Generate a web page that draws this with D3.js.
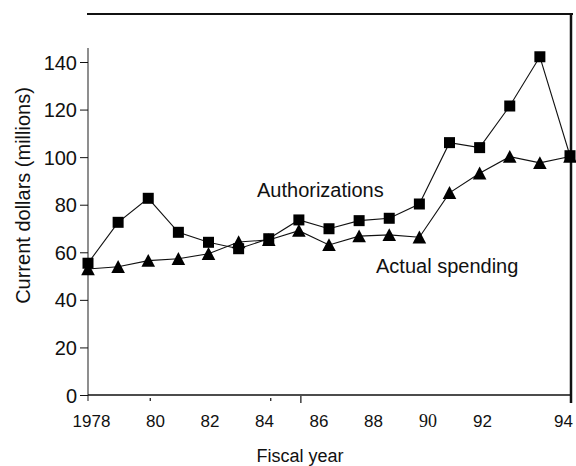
<!DOCTYPE html>
<html><head><meta charset="utf-8">
<script src="https://cdn.jsdelivr.net/npm/d3@7"></script>
<style>
body{margin:0;background:#fff}
svg{display:block;background:#fff}
text{font-family:"Liberation Sans",Arial,Helvetica,sans-serif;fill:#111}
</style>
</head><body>
<svg id="c" width="576" height="466"></svg>
<script>
// ---- data ----
const years = [1978,1979,1980,1981,1982,1983,1984,1985,1986,1987,1988,1989,1990,1991,1992,1993,1994];
const authorizations = [55.4,72.6,82.7,68.4,64.2,61.5,65.7,73.6,69.9,73.3,74.3,80.3,106.1,104.0,121.5,142.2,100.6];
const actualSpending = [53.0,53.9,56.5,57.3,59.4,64.3,65.2,69.1,63.1,66.8,67.3,66.3,85.0,93.2,100.2,97.6,100.3];
const yTicks = [0,20,40,60,80,100,120,140];
const xTickYears = [1978,1980,1982,1984,1986,1988,1990,1992,1994];
const xTickLabels = ["1978","80","82","84","86","88","90","92","94"];
const minorTickYears = [1980,1984,1985];

// ---- scales ----
const x = d3.scaleLinear().domain([1978,1994]).range([88,570]);
const y = d3.scaleLinear().domain([0,140]).range([395,62]);
// the printed year labels sit on their own, unevenly spaced scale in the original
const xLabel = d3.scaleLinear().domain([1978,1980,1992,1994]).range([91,155,482,563]);

const svg = d3.select('#c');
const ink = '#111';

// frame lines
svg.append('line').attr('x1',87).attr('x2',573).attr('y1',14).attr('y2',14)
  .attr('stroke',ink).attr('stroke-width',2);
svg.append('line').attr('x1',571).attr('x2',571).attr('y1',14).attr('y2',403)
  .attr('stroke',ink).attr('stroke-width',2.5);
// left axis line
svg.append('line').attr('x1',88).attr('x2',88).attr('y1',48).attr('y2',401)
  .attr('stroke','#444').attr('stroke-width',1.2);
// bottom axis line
svg.append('line').attr('x1',88).attr('x2',571).attr('y1',y(0)).attr('y2',y(0))
  .attr('stroke',ink).attr('stroke-width',1.6);

// y axis
const gy = svg.append('g').attr('transform','translate(88,0)')
  .call(d3.axisLeft(y).tickValues(yTicks).tickSize(8).tickPadding(3).tickFormat(d3.format('d')));
gy.select('.domain').remove();
gy.attr('color',ink);
gy.selectAll('.tick line').attr('stroke-width',1);
gy.selectAll('text').style('font-size','20px').attr('dy','0.35em');

// x axis labels
const gx = svg.append('g').attr('transform','translate(0,427)')
  .call(d3.axisBottom(xLabel).tickValues(xTickYears).tickSize(0).tickPadding(0)
    .tickFormat((d,i)=>xTickLabels[i]));
gx.select('.domain').remove();
gx.attr('color',ink);
gx.selectAll('text').attr('y',0).attr('dy',0).style('font-size','17px');
gx.selectAll('.tick').filter(d=>d===1990).select('text')
  .style('font-family','"Liberation Serif","Times New Roman",serif').style('font-size','18px');

// minor tick marks below the axis
svg.selectAll('line.minor').data(minorTickYears).enter().append('line')
  .attr('class','minor')
  .attr('x1',d=>x(d)+2).attr('x2',d=>x(d)+2)
  .attr('y1',d=>d===1985?396:398).attr('y2',d=>d===1985?403:401)
  .attr('stroke',ink).attr('stroke-width',1.2);

// lines
const line = d3.line().x((d,i)=>x(years[i])).y(d=>y(d));
svg.append('path').datum(actualSpending).attr('d',line)
  .attr('fill','none').attr('stroke',ink).attr('stroke-width',1.1);
svg.append('path').datum(authorizations).attr('d',line)
  .attr('fill','none').attr('stroke',ink).attr('stroke-width',1.1);

// triangle markers (actual spending)
svg.selectAll('path.tri').data(actualSpending).enter().append('path')
  .attr('class','tri')
  .attr('transform',(d,i)=>`translate(${x(years[i])},${y(d)})`)
  .attr('d','M0,-6.7L6.8,6.2L-6.8,6.2Z')
  .attr('fill','#000');

// square markers (authorizations)
svg.selectAll('rect.sq').data(authorizations).enter().append('rect')
  .attr('class','sq')
  .attr('x',(d,i)=>x(years[i])-5.5).attr('y',d=>y(d)-5.5)
  .attr('width',11).attr('height',11).attr('fill','#000');

// series labels
svg.append('text').attr('x',257).attr('y',197).style('font-size','20px').text('Authorizations');
svg.append('text').attr('x',376).attr('y',273).style('font-size','20px').text('Actual spending');

// axis titles
svg.append('text').attr('transform','translate(30,195.5) rotate(-90)')
  .attr('text-anchor','middle').style('font-size','20px').text('Current dollars (millions)');
svg.append('text').attr('x',300).attr('y',462).attr('text-anchor','middle')
  .style('font-size','18px').text('Fiscal year');
</script>
</body></html>
